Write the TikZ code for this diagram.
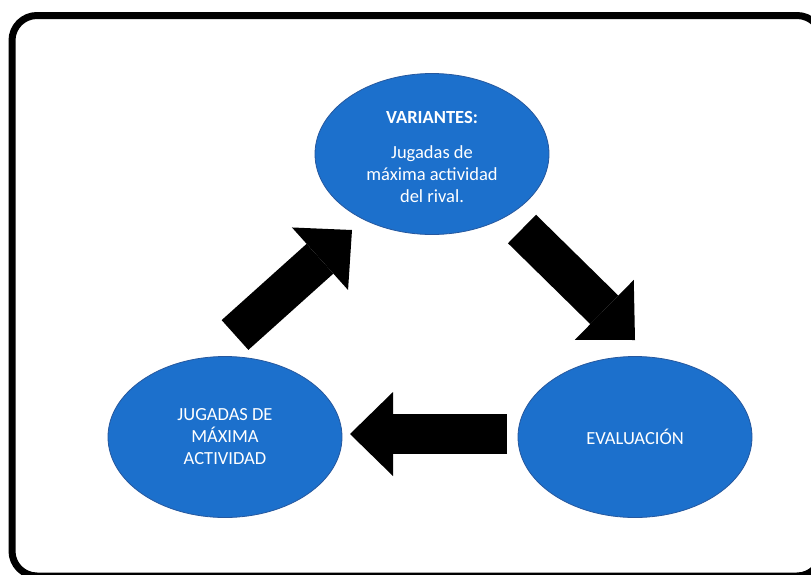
\documentclass[tikz,border=0pt]{standalone}
\usepackage{fontspec}
\setmainfont{Carlito}
\usetikzlibrary{shapes.geometric,arrows.meta}

\definecolor{bubbleblue}{RGB}{28,112,204}
\definecolor{bubbleedge}{RGB}{38,88,158}

\tikzset{
  bubble/.style={ellipse, fill=bubbleblue, draw=bubbleedge, line width=0.8pt,
    minimum width=234pt, minimum height=161pt, inner sep=0pt,
    text=white, align=center, font=\fontsize{18.5}{22}\selectfont},
  bigarrow/.style={line width=40pt,
    -{Triangle[length=43pt,width=84pt,line width=0pt]}}
}

\begin{document}
\begin{tikzpicture}[x=1pt,y=-1pt]
    \def \corner {25pt} % radius of the frame corners
    \useasboundingbox (0,0) rectangle (811,574);
    \clip (0,0) rectangle (811,574);
    \draw[line width=7pt, rounded corners=\corner] (12,15.5) rectangle (822,576);

    \node[bubble] (variantes) at (432,154)
      {\raisebox{-5pt}[\height][\depth]{\begin{tabular}{@{}c@{}}
       \textbf{VARIANTES:}\\[13pt] Jugadas de\\ máxima actividad\\ del rival.
       \end{tabular}}};
    \node[bubble] (jugadas) at (225,437) {JUGADAS DE\\ MÁXIMA\\ ACTIVIDAD};
    \node[bubble] (evaluacion) at (635,437) {EVALUACIÓN};

    % ends of the block arrows
    \coordinate (up-tail) at (235,335);
    \coordinate (up-tip) at (352,230);
    \coordinate (down-tail) at (522,229);
    \coordinate (down-tip) at (635,340);
    \coordinate (back-tail) at (507,434);
    \coordinate (back-tip) at (350,434);

    \foreach \s in {up,down,back}
    {
      \draw[bigarrow] (\s-tail) -- (\s-tip);
    }
\end{tikzpicture}
\end{document}
